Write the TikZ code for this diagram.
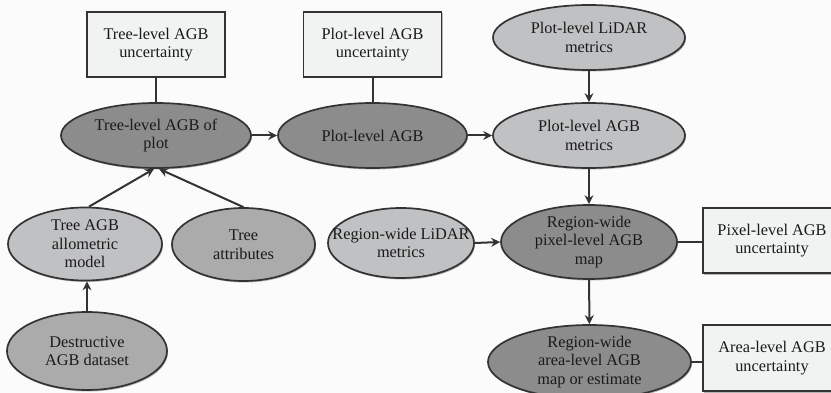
\documentclass[tikz,border=0pt]{standalone}
\usepackage{fontspec}
\setmainfont{Liberation Serif}
\usetikzlibrary{shapes.geometric,arrows.meta,shadows}
\definecolor{dk}{HTML}{8C8C8C}
\definecolor{md}{HTML}{ABABAB}
\definecolor{lt}{HTML}{C0C1C3}
\definecolor{bx}{HTML}{F1F3F3}
\definecolor{ln}{HTML}{333333}
\definecolor{bg}{HTML}{FBFBFB}
\definecolor{tx}{HTML}{1A1A1A}
\begin{document}
\begin{tikzpicture}[x=1pt,y=-1pt,
  every node/.style={font=\fontsize{16.3}{18.5}\selectfont, text=tx, align=center},
  shd/.style={drop shadow={shadow xshift=1pt, shadow yshift=-1.5pt, opacity=0.4, fill=black!70}},
  ell/.style={ellipse, draw=ln, line width=1.7pt, inner xsep=-25pt, inner ysep=-10pt, shd},
  dark/.style={ell, fill=dk},
  mid/.style={ell, fill=md},
  light/.style={ell, fill=lt},
  ubox/.style={rectangle, draw=ln, line width=1.7pt, fill=bx, minimum width=138pt, minimum height=65pt, inner sep=0pt, shd},
  con/.style={draw=ln, line width=2pt},
  arr/.style={con, -{Stealth[length=9pt,width=9pt,inset=3pt]}}
]
\useasboundingbox (0,0) rectangle (831,393);
\clip (0,0) rectangle (831,393);
\fill[bg] (0,0) rectangle (831,393);

\node[ubox] (TLU) at (156,44.5) {Tree-level AGB\\uncertainty};
\node[ubox] (PLU) at (372.5,44.5) {Plot-level AGB\\uncertainty};
\node[light, minimum width=192pt, minimum height=65pt] (PLL) at (589,37.5) {Plot-level LiDAR\\metrics};
\node[dark, minimum width=190pt, minimum height=65pt] (TLP) at (156,135.5) {Tree-level AGB of\\plot};
\node[dark, minimum width=189pt, minimum height=65pt] (PLA) at (372.5,135.5) {Plot-level AGB};
\node[light, minimum width=192pt, minimum height=65pt] (PLM) at (589,135.5) {Plot-level AGB\\metrics};
\node[light, minimum width=154pt, minimum height=73pt] (TAM) at (85,244) {Tree AGB\\allometric\\model};
\node[mid, minimum width=143pt, minimum height=73pt] (TAT) at (243.5,244.5) {Tree\\attributes};
\node[mid, minimum width=160pt, minimum height=78pt] (DAD) at (87,351) {Destructive\\AGB dataset};
\node[light, minimum width=146pt, minimum height=70pt] (RLM) at (401,243) {Region-wide LiDAR\\metrics};
\node[dark, minimum width=176pt, minimum height=74pt] (RPM) at (589,242) {Region-wide\\pixel-level AGB\\map};
\node[ubox] (PXU) at (772,240.5) {Pixel-level AGB\\uncertainty};
\node[dark, minimum width=203pt, minimum height=74pt] (RAM) at (589.5,362) {Region-wide\\area-level AGB\\map or estimate};
\node[ubox, minimum height=66pt] (AAU) at (772,358) {Area-level AGB\\uncertainty};

\draw[con] (TLU) -- (TLP);
\draw[con] (PLU) -- (PLA);
\draw[arr] (TLP) -- (PLA);
\draw[arr] (PLA) -- (PLM);
\draw[arr] (PLL) -- (PLM);
\draw[arr] ([xshift=4pt]TAM.north) -- ([xshift=-2pt]TLP.south);
\draw[arr] (TAT.north) -- ([xshift=3pt]TLP.south);
\draw[arr] (DAD.north) -- (DAD.north |- TAM.south);
\draw[arr] (RLM.east) -- (RPM.west);
\draw[arr] (PLM) -- (RPM);
\draw[con] (RPM.east) -- (RPM.east -| PXU.west);
\draw[arr] (RPM) -- (RAM);
\draw[con] (RAM.east) -- (RAM.east -| AAU.west);
\end{tikzpicture}
\end{document}
